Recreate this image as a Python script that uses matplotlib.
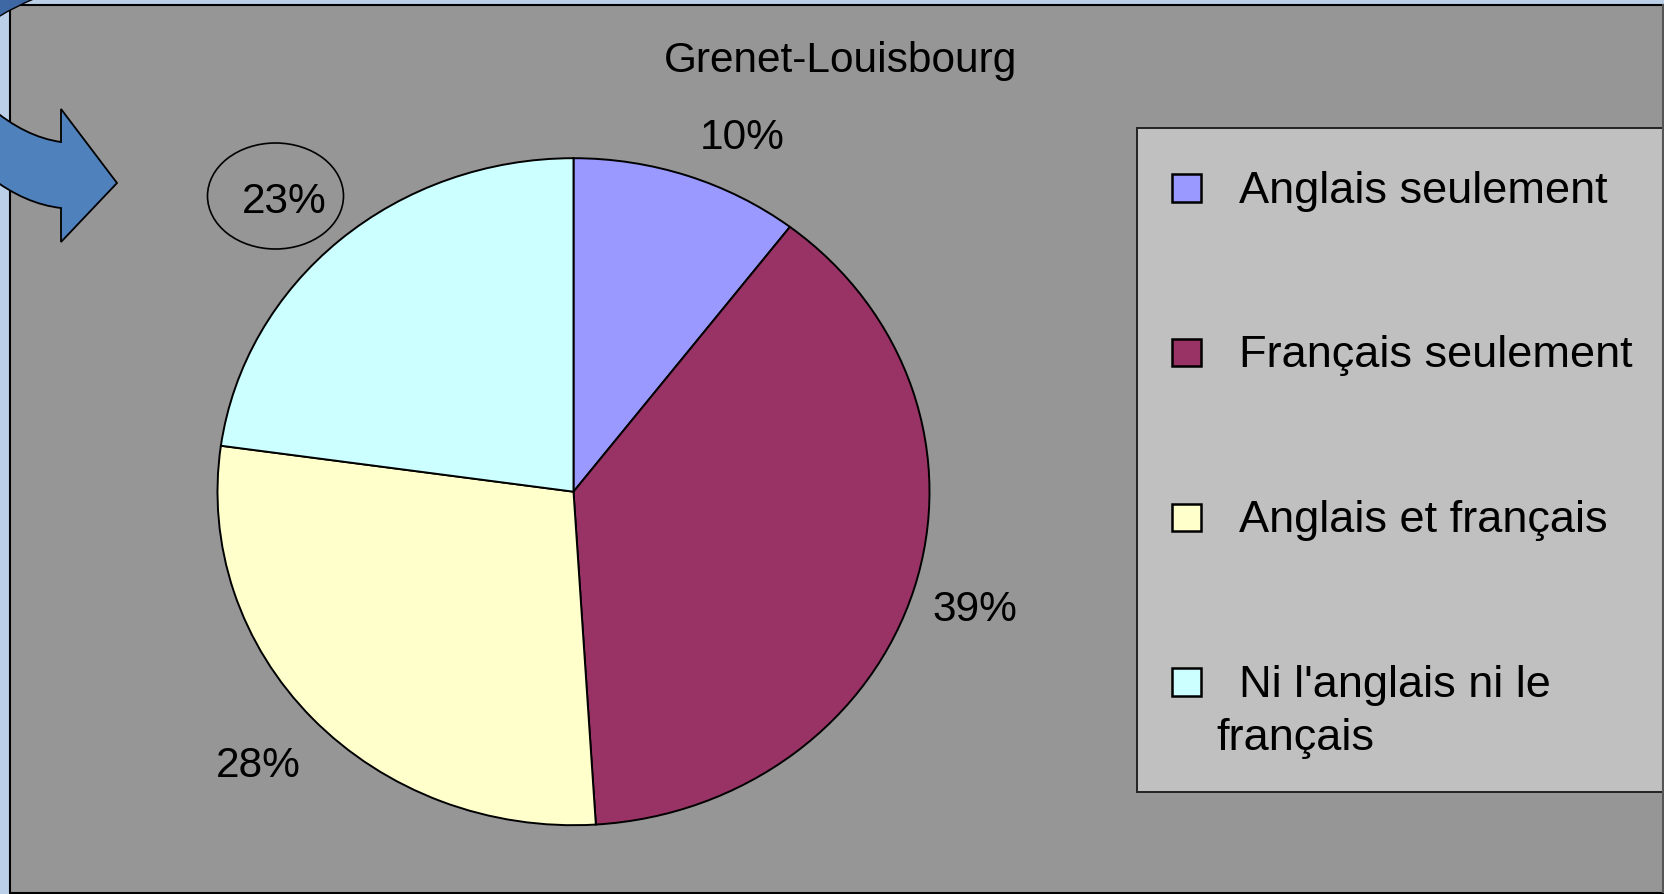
import matplotlib
matplotlib.use("Agg")
import matplotlib.pyplot as plt
from matplotlib.patches import Rectangle, Ellipse, PathPatch
from matplotlib.path import Path

plt.rcParams['font.family'] = ['Liberation Sans', 'DejaVu Sans']

# ---- data ----
title = "Grenet-Louisbourg"
categories = ["Anglais seulement", "Français seulement", "Anglais et français",
              "Ni l'anglais ni le\nfrançais"]
values = [10.4, 38.6, 28.2, 22.8]
colors = ["#9999FF", "#993366", "#FFFFCC", "#CCFFFF"]

W, H = 1665, 895
fig = plt.figure(figsize=(W / 100, H / 100), dpi=100)
fig.patch.set_facecolor("#BBD0E8")

# background / decoration axes in pixel coordinates (top-left origin)
bg = fig.add_axes([0, 0, 1, 1], zorder=0)
bg.set_xlim(0, W)
bg.set_ylim(H, 0)
bg.axis("off")

# gray chart area
bg.add_patch(Rectangle((10.5, 6), W - 10.5 + 1, 887.5, facecolor="#969696",
                       edgecolor="black", linewidth=1.5))
# right edge darker line
bg.plot([W - 1.5, W - 1.5], [6, 893], color="#555555", lw=1.5)

# curved arrow on the left
verts = [(-10, 108), (25, 138), (61, 143),
         (61, 110), (117, 184), (61, 243), (61, 209),
         (25, 205), (-10, 178), (-10, 108)]
codes = [Path.MOVETO, Path.CURVE3, Path.CURVE3,
         Path.LINETO, Path.LINETO, Path.LINETO, Path.LINETO,
         Path.CURVE3, Path.CURVE3, Path.CLOSEPOLY]
bg.add_patch(PathPatch(Path(verts, codes), facecolor="#4F81BD",
                       edgecolor="black", linewidth=1.3, zorder=5))

# sliver of another arrow in the top-left corner
verts2 = [(-5, -5), (36, -5), (36, -1), (14, 8), (0, 17), (-5, 19), (-5, -5)]
codes2 = [Path.MOVETO, Path.LINETO, Path.LINETO, Path.CURVE3, Path.CURVE3,
          Path.LINETO, Path.CLOSEPOLY]
bg.add_patch(PathPatch(Path(verts2, codes2), facecolor="#3E68A3",
                       edgecolor="black", linewidth=1.0, zorder=5))

# title
bg.text(841, 71.5, title, ha="center", va="baseline", fontsize=30.5, color="black")

# ellipse around 23% label
bg.add_patch(Ellipse((275.5, 197), 136, 106, facecolor="none",
                     edgecolor="black", linewidth=1.2, zorder=6))

# legend
bg.add_patch(Rectangle((1137, 128.7), W - 1137 + 2, 793 - 128.7,
                       facecolor="#C0C0C0", edgecolor="#222222", linewidth=1.4))
base0, step, line_h = 202.7, 164.7, 53
for i, (lab, col) in enumerate(zip(categories, colors)):
    yb = base0 + i * step
    bg.add_patch(Rectangle((1172, yb - 27.5), 29.5, 27.5, facecolor=col,
                           edgecolor="black", linewidth=1.8))
    for j, line in enumerate(lab.split("\n")):
        x = 1239 if j == 0 else 1216
        bg.text(x, yb + j * line_h, line, ha="left", va="baseline",
                fontsize=32.5, color="black")

# pie chart (elliptical, as in the reference)
cx, cy, rx, ry = 573.5, 492.7, 356, 333.5
ax = fig.add_axes([(cx - rx) / W, (H - (cy + ry)) / H, 2 * rx / W, 2 * ry / H],
                  zorder=2)
wedges, texts, autotexts = ax.pie(
    values, colors=colors, startangle=90, counterclock=False,
    wedgeprops=dict(edgecolor="black", linewidth=1.4),
    autopct="%.0f%%", pctdistance=1.19,
    textprops=dict(fontsize=30.5, color="black"))
ax.set_aspect("auto")
ax.set_xlim(-1, 1)
ax.set_ylim(-1, 1)
ax.axis("off")

# label anchor points (pixel positions of label centre x / baseline y)
label_px = [(742.5, 149), (975, 621), (258, 777), (284.7, 213.3)]
for t, (px, py) in zip(autotexts, label_px):
    t.set_position(((px - cx) / rx, (cy - py) / ry))
    t.set_ha("center")
    t.set_va("baseline")

fig.savefig("out.png", dpi=100, facecolor=fig.get_facecolor())
